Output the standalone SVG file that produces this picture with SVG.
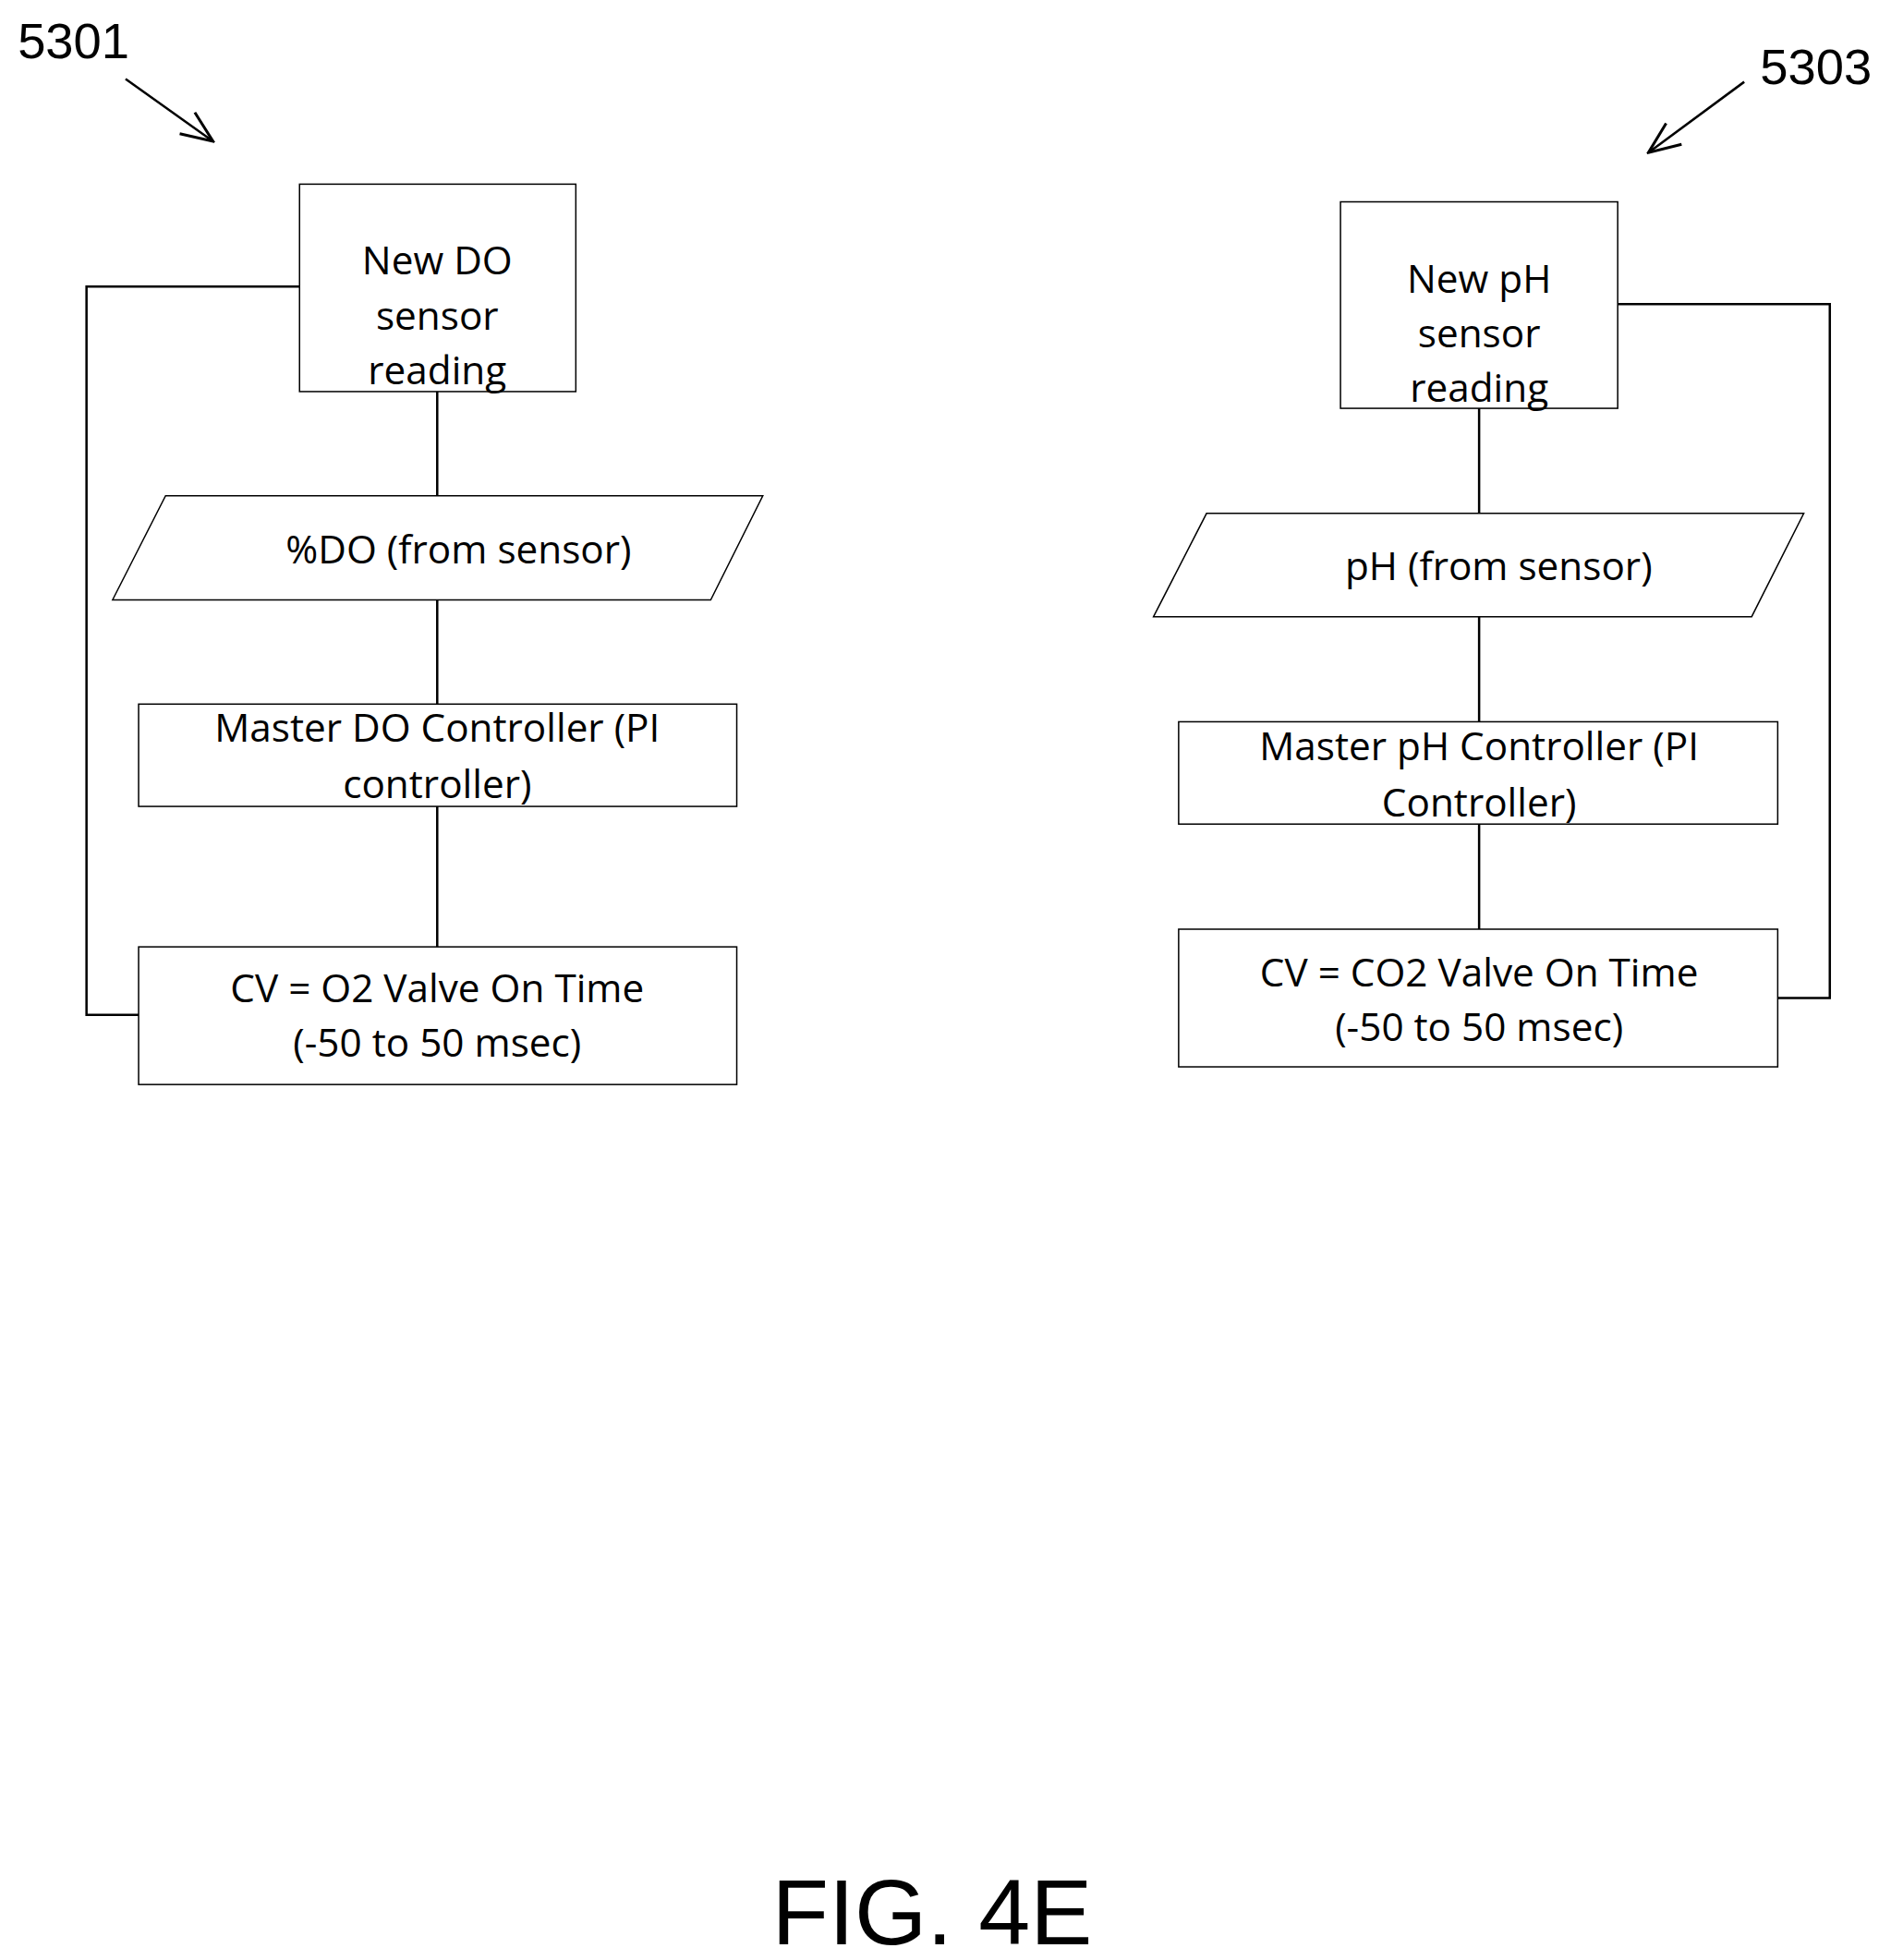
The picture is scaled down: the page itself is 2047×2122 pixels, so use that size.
<svg xmlns="http://www.w3.org/2000/svg" width="2047" height="2122" viewBox="0 0 2047 2122">
<style>
.b{fill:#fff;stroke:#000;stroke-width:1.5}
.t{font-family:"Open Sans","Liberation Sans",sans-serif;font-size:42px;text-anchor:middle;dominant-baseline:central;fill:#000}
.l{font-family:"Liberation Sans",Arial,sans-serif;fill:#000}
.c{fill:none;stroke:#000;stroke-width:2.5}
</style>
<defs><marker id="h" viewBox="0 0 40 40" refX="38" refY="20" markerWidth="40" markerHeight="40" markerUnits="userSpaceOnUse" orient="auto"><path d="M4,6 L38,20 L4,34" fill="none" stroke="#000" stroke-width="3"/></marker></defs>
<g transform="scale(1.007)">
<text class="l" x="19" y="63" font-size="54">5301</text>
<text class="l" x="1892" y="90" font-size="54">5303</text>
<g id="connectors">
<line class="c" x1="135" y1="85" x2="229" y2="152" marker-end="url(#h)"/>
<line class="c" x1="1875" y1="88" x2="1772" y2="164" marker-end="url(#h)"/>
<path class="c" d="M470,421V533M470,645V757M470,867V1018"/>
<path class="c" d="M322,308H93V1091H149"/>
<path class="c" d="M1590,439V552M1590,663V776M1590,886V999"/>
<path class="c" d="M1739,327H1967V1073H1911"/>
</g>
<g id="n1"><rect class="b" x="322" y="198" width="297" height="223"/><text class="t" x="470" y="279">New DO</text><text class="t" x="470" y="338">sensor</text><text class="t" x="470" y="397">reading</text></g>
<g id="n2"><polygon class="b" points="121,645 178,533 820,533 764,645"/><text class="t" x="493" y="589">%DO (from sensor)</text></g>
<g id="n3"><rect class="b" x="149" y="757" width="643" height="110"/><text class="t" x="470" y="781">Master DO Controller (PI</text><text class="t" x="470" y="842">controller)</text></g>
<g id="n4"><rect class="b" x="149" y="1018" width="643" height="148"/><text class="t" x="470" y="1061">CV = O2 Valve On Time</text><text class="t" x="470" y="1120">(-50 to 50 msec)</text></g>
<g id="m1"><rect class="b" x="1441" y="217" width="298" height="222"/><text class="t" x="1590" y="298">New pH</text><text class="t" x="1590" y="357">sensor</text><text class="t" x="1590" y="416">reading</text></g>
<g id="m2"><polygon class="b" points="1240,663 1297,552 1939,552 1883,663"/><text class="t" x="1611" y="607">pH (from sensor)</text></g>
<g id="m3"><rect class="b" x="1267" y="776" width="644" height="110"/><text class="t" x="1590" y="801">Master pH Controller (PI</text><text class="t" x="1590" y="861">Controller)</text></g>
<g id="m4"><rect class="b" x="1267" y="999" width="644" height="148"/><text class="t" x="1590" y="1044">CV = CO2 Valve On Time</text><text class="t" x="1590" y="1103">(-50 to 50 msec)</text></g>
<text class="l" x="1002" y="2090" font-size="100" text-anchor="middle">FIG. 4E</text>
</g>
</svg>
